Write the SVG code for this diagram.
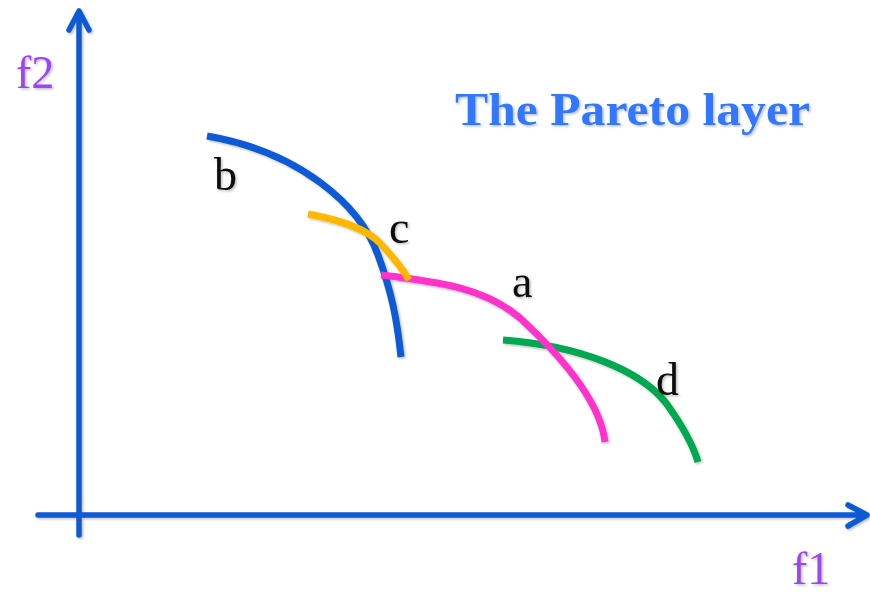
<svg xmlns="http://www.w3.org/2000/svg" width="870" height="593" viewBox="0 0 870 593">
<style>
.ax{fill:none;stroke:#0a5ad6;stroke-width:5.5;stroke-linecap:round;stroke-linejoin:round}
.cv{fill:none;stroke-width:7;stroke-linecap:butt}
.lbl{font-family:"Liberation Serif",serif;font-size:46px;fill:#111}
.axl{font-family:"Liberation Serif",serif;font-size:46px;fill:#9b45f5}
.title{font-family:"Liberation Serif",serif;font-size:46px;font-weight:bold;fill:#3377ff}
</style>
<defs>
<filter id="sh" x="-10%" y="-10%" width="120%" height="120%">
<feDropShadow dx="1.5" dy="1.5" stdDeviation="1.2" flood-color="#000" flood-opacity="0.25"/>
</filter>
</defs>
<rect width="870" height="593" fill="#fff"/>
<g id="axes" filter="url(#sh)">
<path class="ax" d="M79,535 V12 M69,30 L79,11 L89,30"/>
<path class="ax" d="M38,515 H866 M848,505 L867,515 L848,526"/>
</g>
<g id="axis-labels" filter="url(#sh)">
<text class="axl" x="16" y="88">f2</text>
<text class="axl" x="792" y="584">f1</text>
</g>
<g id="title" filter="url(#sh)">
<text class="title" x="455" y="125" textLength="355" lengthAdjust="spacingAndGlyphs">The Pareto layer</text>
</g>
<g id="connectors" filter="url(#sh)">
<path id="curve-b" class="cv" stroke="#0a5ad6" d="M207,136 C300,152 360,205 378,255 C392,293 397,320 401,357"/>
<path id="curve-d" class="cv" stroke="#00a84f" d="M503,340 C580,346 640,370 666,403 C684,428 693,445 698,462"/>
<path id="curve-a" class="cv" stroke="#ff33cc" d="M381,275 C440,282 485,288 520,318 C560,355 600,400 605,442"/>
<path id="curve-c" class="cv" stroke="#ffb800" d="M308,214 C340,220 365,228 380,243 C392,256 401,266 409,280"/>
</g>
<g id="labels" filter="url(#sh)">
<text class="lbl" x="214" y="190">b</text>
<text class="lbl" x="389" y="243">c</text>
<text class="lbl" x="512" y="297">a</text>
<text class="lbl" x="656" y="395">d</text>
</g>
</svg>
